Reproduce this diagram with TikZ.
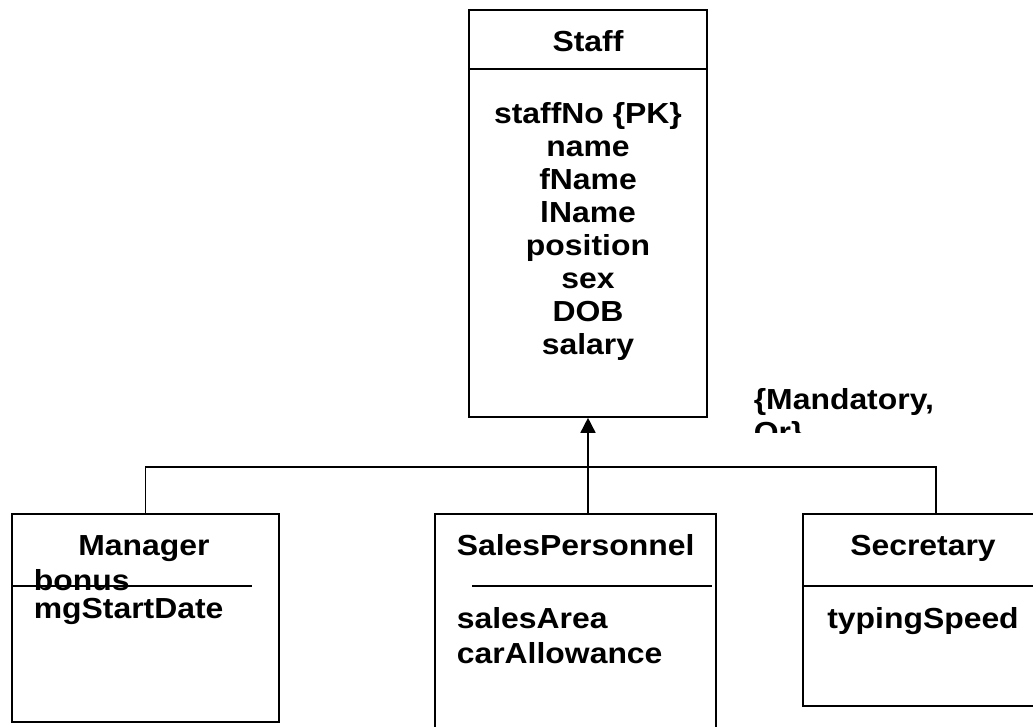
\documentclass[tikz,border=0pt]{standalone}
\usepackage{fontspec}
\setmainfont[FakeStretch=1.1]{Liberation Sans}
\usetikzlibrary{arrows.meta}
\tikzset{
  classbox/.style={draw, line width=1.6pt, inner sep=0pt},
  umltext/.style={font=\fontsize{29}{33}\selectfont\bfseries, inner sep=0pt},
}
\begin{document}
\begin{tikzpicture}[x=1pt, y=-1pt, line width=1.6pt]
    \useasboundingbox (0,0) rectangle (1033,726);
    %\draw[help lines, color=gray!30, dashed] (0,0) grid[step=50] (1033,726);
    % superclass
    \node[classbox, minimum width=238, minimum height=407] (staff) at (588,213.5) {};
    \draw (staff.west |- 0,69) -- (staff.east |- 0,69);
    \node[umltext, anchor=base] (stafftitle) at (588,51) {Staff};
    \node[umltext, anchor=north, align=center] (staffattr) at (588,102) {staffNo \{PK\}\\ name\\ fName\\ lName\\ position\\ sex\\ DOB\\ salary};
    % subclasses
    \node[classbox, minimum width=267, minimum height=208] (manager) at (145.5,618) {};
    \node[classbox, minimum width=281, minimum height=246] (sales) at (575.5,637) {};
    \node[classbox, minimum width=266, minimum height=192] (secretary) at (936,610) {};
    \draw (manager.west |- 0,586) -- (252,586);
    \draw (472,586) -- (712,586);
    \draw (secretary.west |- 0,586) -- (secretary.east |- 0,586);
    \node[umltext, anchor=base] (managertitle) at (144,555) {Manager};
    \node[umltext, anchor=base west] (bonus) at (33,590) {bonus};
    \node[umltext, anchor=base west] (mgstart) at (33,618) {mgStartDate};
    \node[umltext, anchor=base west] (salestitle) at (456,555) {SalesPersonnel};
    \node[umltext, anchor=base west] (salesarea) at (456,628) {salesArea};
    \node[umltext, anchor=base west] (carallow) at (456,663) {carAllowance};
    \node[umltext, anchor=base] (secretarytitle) at (923,555) {Secretary};
    \node[umltext, anchor=base] (typing) at (923,628) {typingSpeed};
    % generalization
    \coordinate (jn) at (588,467);
    \draw[-{Triangle[length=15pt,width=15pt]}] (jn) -- (staff.south);
    \draw (manager.north) |- (jn) -| (secretary.north);
    \draw (jn) -- (jn |- sales.north);
    \begin{scope}
      \clip (740,380) rectangle (1000,432);
      \node[umltext, anchor=north west, align=left] (constraint) at (753,388) {\{Mandatory,\\ Or\}};
    \end{scope}
\end{tikzpicture}
\end{document}
